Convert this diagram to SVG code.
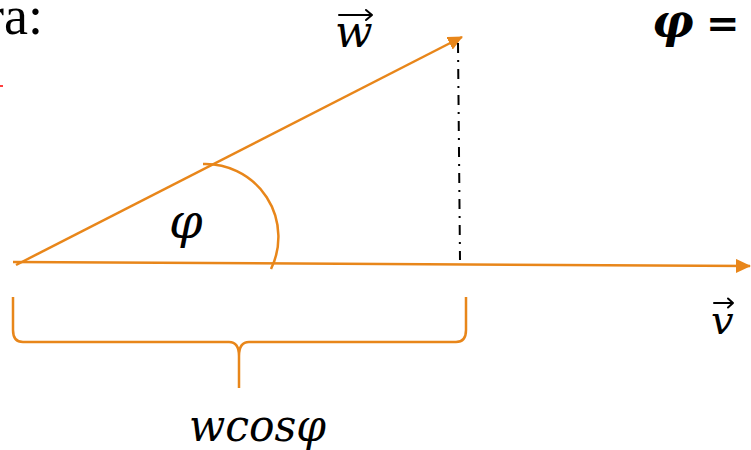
<svg xmlns="http://www.w3.org/2000/svg" width="751" height="450" viewBox="0 0 751 450">
<style>
.or{stroke:#E8861A;stroke-width:2.5;fill:none}
.math{font-family:"DejaVu Serif","Liberation Serif",serif;font-style:italic;fill:#000}
.acc{stroke:#000;stroke-width:2;fill:none;stroke-linecap:round;stroke-linejoin:round}
</style>
<defs>
<marker id="ah" markerUnits="userSpaceOnUse" markerWidth="16" markerHeight="14" refX="14" refY="7" orient="auto">
<path d="M0,0 L15,7 L0,14 Z" fill="#E8861A"/>
</marker>
</defs>
<rect width="751" height="450" fill="#fff"/>
<text x="-14" y="34" font-family="Liberation Serif,serif" font-size="54" fill="#000">ra:</text>
<line x1="0" y1="86" x2="3" y2="86" stroke="#f00" stroke-width="1.5"/>
<g id="connectors">
<line id="v-axis" class="or" x1="13" y1="262" x2="750" y2="266" marker-end="url(#ah)"/>
<line id="w-vec" class="or" x1="16" y1="265" x2="462" y2="37" marker-end="url(#ah)"/>
<line id="proj" x1="458" y1="43" x2="460" y2="260" stroke="#000" stroke-width="2" stroke-dasharray="10 7 2 7"/>
<path id="angle" class="or" d="M203,164 A73,73 0 0 1 271,269"/>
<path id="brace" class="or" d="M13,297 L13,330 Q13,342 23,342 L229,342 Q239,342 239,356 L239,388 M239,356 Q239,342 249,342 L456,342 Q466,342 466,330 L466,297"/>
</g>
<g id="label-w"><text class="math" x="335" y="47" font-size="44">w</text><path class="acc" d="M339,15 L372,15 M366,10 L372,15 L366,20"/></g>
<g id="label-phi"><text class="math" x="169" y="238" font-size="48">φ</text></g>
<g id="label-v"><text class="math" x="711" y="334" font-size="40">v</text><path class="acc" d="M714,303 L733,303 M728,298.5 L733,303 L728,307.5"/></g>
<g id="label-wcos"><text class="math" x="189" y="441" font-size="44" textLength="137" lengthAdjust="spacingAndGlyphs">wcosφ</text></g>
<g id="label-phi-eq"><text x="652" y="37" font-family="DejaVu Serif,serif" font-style="italic" font-weight="bold" font-size="46" fill="#000">φ<tspan x="706" font-size="40">=</tspan></text></g>
</svg>
